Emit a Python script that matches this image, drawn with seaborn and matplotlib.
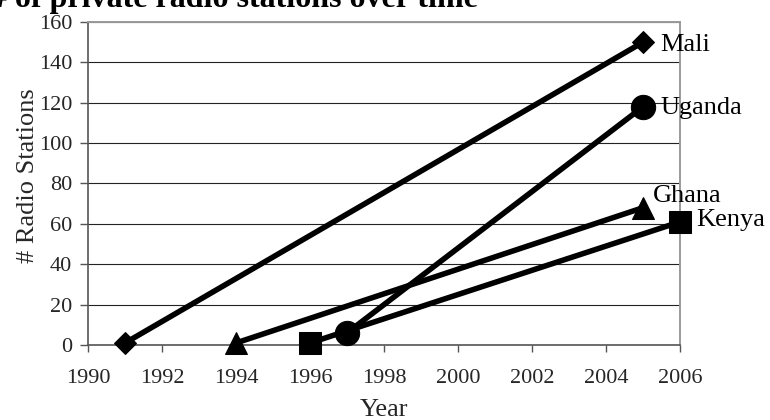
import matplotlib
matplotlib.use("Agg")
import matplotlib.pyplot as plt
import seaborn as sns
import pandas as pd

# ---- data ----
countries = ["Mali", "Uganda", "Ghana", "Kenya"]
mali_years = [1991, 2005]
mali_values = [1, 150]
uganda_years = [1997, 2005]
uganda_values = [6, 118]
ghana_years = [1994, 2005]
ghana_values = [1, 68]
kenya_years = [1996, 2006]
kenya_values = [1, 61]
x_ticks = [1990, 1992, 1994, 1996, 1998, 2000, 2002, 2004, 2006]
y_ticks = [0, 20, 40, 60, 80, 100, 120, 140, 160]
title = "# of private radio stations over time"

series = {
    "Mali": (mali_years, mali_values),
    "Uganda": (uganda_years, uganda_values),
    "Ghana": (ghana_years, ghana_values),
    "Kenya": (kenya_years, kenya_values),
}
rows = []
for c in countries:
    ys, vs = series[c]
    for y, v in zip(ys, vs):
        rows.append({"Country": c, "Year": y, "Stations": v})
df = pd.DataFrame(rows)

sns.set_theme(style="white")
plt.rcParams["font.family"] = ["Liberation Serif", "DejaVu Serif"]

fig = plt.figure(figsize=(7.7, 4.2), dpi=100)
ax = fig.add_axes([88 / 770, 1 - 345 / 420, (680 - 88) / 770, (345 - 22) / 420])

styles = {
    "Mali": dict(marker="D", ms=11.7),
    "Uganda": dict(marker="o", ms=17.5),
    "Ghana": dict(marker="^", ms=16.5),
    "Kenya": dict(marker="s", ms=16.5),
}
label_offsets = {
    "Mali": (12.5, -2.0),
    "Uganda": (12.5, -1.0),
    "Ghana": (7.0, 8.5),
    "Kenya": (12.0, 1.3),
}

for c in countries:
    sub = df[df["Country"] == c]
    sns.lineplot(data=sub, x="Year", y="Stations", ax=ax, color="black",
                 linewidth=4, marker=styles[c]["marker"],
                 markersize=styles[c]["ms"], markeredgecolor="black",
                 markerfacecolor="black", legend=False, clip_on=False,
                 zorder=3)
    last = sub.iloc[-1]
    ax.annotate(c, xy=(last["Year"], last["Stations"]),
                xytext=label_offsets[c], textcoords="offset points",
                ha="left", va="center", fontsize=19, color="black",
                annotation_clip=False)

ax.set_xlim(1990, 2006)
ax.set_ylim(0, 160)
ax.set_xticks(x_ticks)
ax.set_yticks(y_ticks)
ax.set_xticklabels([str(t) for t in x_ticks])
ax.set_yticklabels([str(t) for t in y_ticks])
ax.grid(axis="y", color="#222222", linewidth=0.8)
ax.grid(axis="x", visible=False)
ax.set_axisbelow(True)

ax.tick_params(axis="x", direction="out", length=5.0, width=1.0,
               color="#555555", pad=12, labelsize=16, bottom=True)
ax.tick_params(axis="y", direction="out", length=5.8, width=1.0,
               color="#555555", pad=5.5, labelsize=16, left=True)

for side in ["left", "bottom"]:
    ax.spines[side].set_color("#555555")
    ax.spines[side].set_linewidth(1.2)
for side in ["top", "right"]:
    ax.spines[side].set_color("#9a9a9a")
    ax.spines[side].set_linewidth(1.4)

ax.set_xlabel("Year", fontsize=19)
ax.set_ylabel("# Radio Stations", fontsize=19)
ax.xaxis.set_label_coords(0.5, -0.168)
ax.yaxis.set_label_coords(-0.083, 0.523)

fig.text(478 / 770, 1 - 7 / 420, title, ha="right", va="baseline",
         fontsize=23, fontweight="bold", color="black")

fig.savefig("out.png", dpi=100)
